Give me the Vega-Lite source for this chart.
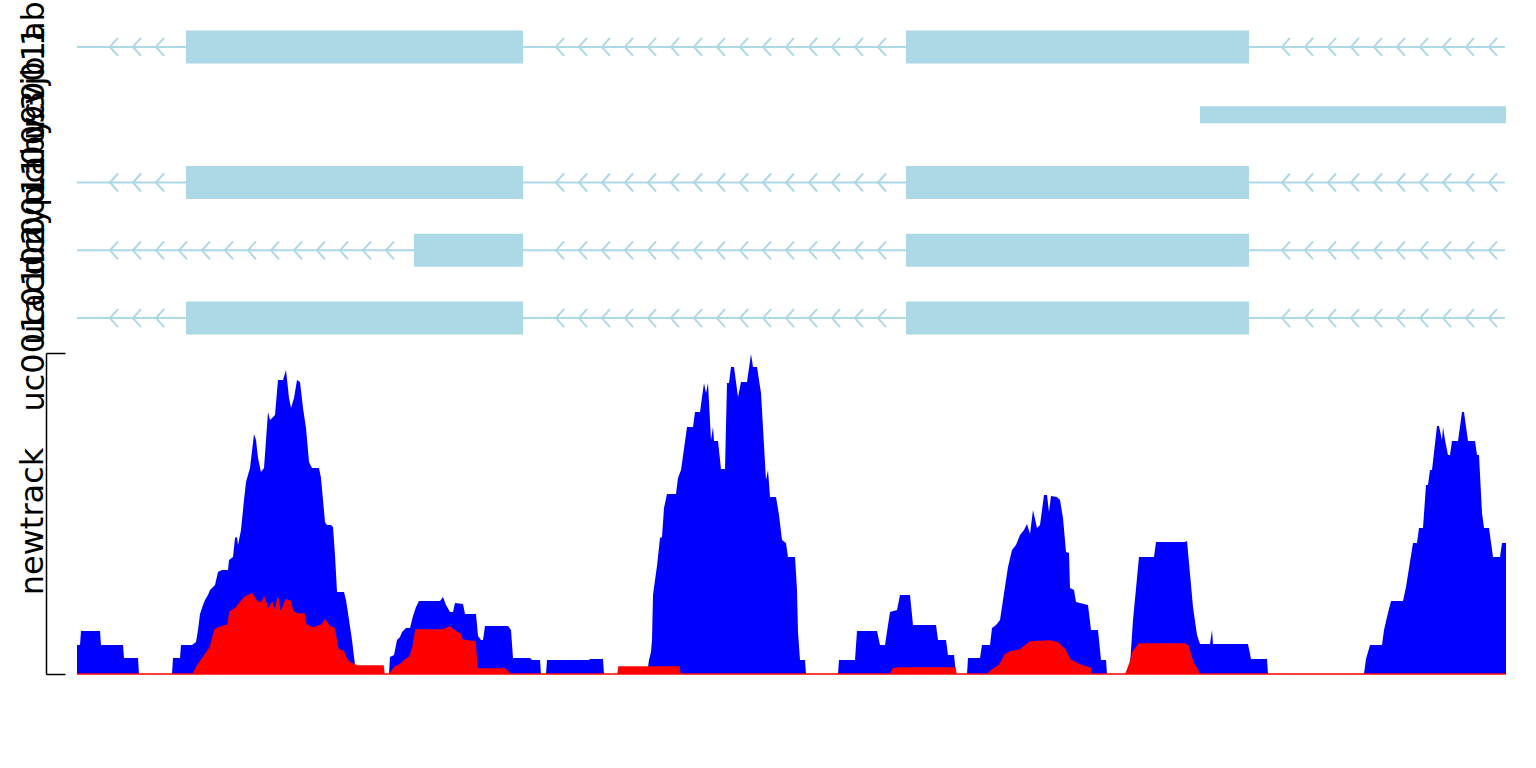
{
  "$schema": "https://vega.github.io/schema/vega-lite/v6.json",
  "padding": {"left": 16, "top": -47, "right": 0, "bottom": 0},
  "bounds": "flush",
  "spacing": 1,
  "config": {"view": {"stroke": null}, "font": "DejaVu Sans"},
  "datasets": {
    "lines": [
      {"r": "uc001abz.2", "x": 77, "x2": 1505},
      {"r": "uc001aby.3", "x": 77, "x2": 1505},
      {"r": "uc010nyp.1", "x": 77, "x2": 1505},
      {"r": "uc001acd.2", "x": 77, "x2": 1505}
    ],
    "exons": [
      {"r": "uc001abz.2", "x": 186, "x2": 523, "k": "cds"},
      {"r": "uc001abz.2", "x": 906, "x2": 1249, "k": "cds"},
      {"r": "uc009vjb.1", "x": 1200, "x2": 1506, "k": "nc"},
      {"r": "uc001aby.3", "x": 186, "x2": 523, "k": "cds"},
      {"r": "uc001aby.3", "x": 906, "x2": 1249, "k": "cds"},
      {"r": "uc010nyp.1", "x": 414, "x2": 523, "k": "cds"},
      {"r": "uc010nyp.1", "x": 906, "x2": 1249, "k": "cds"},
      {"r": "uc001acd.2", "x": 186, "x2": 523, "k": "cds"},
      {"r": "uc001acd.2", "x": 906, "x2": 1249, "k": "cds"}
    ],
    "arrows": [
      {"r": "uc001abz.2", "x": 114}, {"r": "uc001abz.2", "x": 137}, {"r": "uc001abz.2", "x": 160},
      {"r": "uc001abz.2", "x": 560}, {"r": "uc001abz.2", "x": 583}, {"r": "uc001abz.2", "x": 606}, {"r": "uc001abz.2", "x": 629}, {"r": "uc001abz.2", "x": 652}, {"r": "uc001abz.2", "x": 675}, {"r": "uc001abz.2", "x": 698}, {"r": "uc001abz.2", "x": 721}, {"r": "uc001abz.2", "x": 744}, {"r": "uc001abz.2", "x": 767}, {"r": "uc001abz.2", "x": 790}, {"r": "uc001abz.2", "x": 813}, {"r": "uc001abz.2", "x": 836}, {"r": "uc001abz.2", "x": 859}, {"r": "uc001abz.2", "x": 882},
      {"r": "uc001abz.2", "x": 1286}, {"r": "uc001abz.2", "x": 1309}, {"r": "uc001abz.2", "x": 1332}, {"r": "uc001abz.2", "x": 1355}, {"r": "uc001abz.2", "x": 1378}, {"r": "uc001abz.2", "x": 1401}, {"r": "uc001abz.2", "x": 1424}, {"r": "uc001abz.2", "x": 1447}, {"r": "uc001abz.2", "x": 1470}, {"r": "uc001abz.2", "x": 1493},
      {"r": "uc001aby.3", "x": 114}, {"r": "uc001aby.3", "x": 137}, {"r": "uc001aby.3", "x": 160},
      {"r": "uc001aby.3", "x": 560}, {"r": "uc001aby.3", "x": 583}, {"r": "uc001aby.3", "x": 606}, {"r": "uc001aby.3", "x": 629}, {"r": "uc001aby.3", "x": 652}, {"r": "uc001aby.3", "x": 675}, {"r": "uc001aby.3", "x": 698}, {"r": "uc001aby.3", "x": 721}, {"r": "uc001aby.3", "x": 744}, {"r": "uc001aby.3", "x": 767}, {"r": "uc001aby.3", "x": 790}, {"r": "uc001aby.3", "x": 813}, {"r": "uc001aby.3", "x": 836}, {"r": "uc001aby.3", "x": 859}, {"r": "uc001aby.3", "x": 882},
      {"r": "uc001aby.3", "x": 1286}, {"r": "uc001aby.3", "x": 1309}, {"r": "uc001aby.3", "x": 1332}, {"r": "uc001aby.3", "x": 1355}, {"r": "uc001aby.3", "x": 1378}, {"r": "uc001aby.3", "x": 1401}, {"r": "uc001aby.3", "x": 1424}, {"r": "uc001aby.3", "x": 1447}, {"r": "uc001aby.3", "x": 1470}, {"r": "uc001aby.3", "x": 1493},
      {"r": "uc010nyp.1", "x": 114}, {"r": "uc010nyp.1", "x": 137}, {"r": "uc010nyp.1", "x": 160}, {"r": "uc010nyp.1", "x": 183}, {"r": "uc010nyp.1", "x": 206}, {"r": "uc010nyp.1", "x": 229}, {"r": "uc010nyp.1", "x": 252}, {"r": "uc010nyp.1", "x": 275}, {"r": "uc010nyp.1", "x": 298}, {"r": "uc010nyp.1", "x": 321}, {"r": "uc010nyp.1", "x": 344}, {"r": "uc010nyp.1", "x": 367}, {"r": "uc010nyp.1", "x": 390},
      {"r": "uc010nyp.1", "x": 560}, {"r": "uc010nyp.1", "x": 583}, {"r": "uc010nyp.1", "x": 606}, {"r": "uc010nyp.1", "x": 629}, {"r": "uc010nyp.1", "x": 652}, {"r": "uc010nyp.1", "x": 675}, {"r": "uc010nyp.1", "x": 698}, {"r": "uc010nyp.1", "x": 721}, {"r": "uc010nyp.1", "x": 744}, {"r": "uc010nyp.1", "x": 767}, {"r": "uc010nyp.1", "x": 790}, {"r": "uc010nyp.1", "x": 813}, {"r": "uc010nyp.1", "x": 836}, {"r": "uc010nyp.1", "x": 859}, {"r": "uc010nyp.1", "x": 882},
      {"r": "uc010nyp.1", "x": 1286}, {"r": "uc010nyp.1", "x": 1309}, {"r": "uc010nyp.1", "x": 1332}, {"r": "uc010nyp.1", "x": 1355}, {"r": "uc010nyp.1", "x": 1378}, {"r": "uc010nyp.1", "x": 1401}, {"r": "uc010nyp.1", "x": 1424}, {"r": "uc010nyp.1", "x": 1447}, {"r": "uc010nyp.1", "x": 1470}, {"r": "uc010nyp.1", "x": 1493},
      {"r": "uc001acd.2", "x": 114}, {"r": "uc001acd.2", "x": 137}, {"r": "uc001acd.2", "x": 160},
      {"r": "uc001acd.2", "x": 560}, {"r": "uc001acd.2", "x": 583}, {"r": "uc001acd.2", "x": 606}, {"r": "uc001acd.2", "x": 629}, {"r": "uc001acd.2", "x": 652}, {"r": "uc001acd.2", "x": 675}, {"r": "uc001acd.2", "x": 698}, {"r": "uc001acd.2", "x": 721}, {"r": "uc001acd.2", "x": 744}, {"r": "uc001acd.2", "x": 767}, {"r": "uc001acd.2", "x": 790}, {"r": "uc001acd.2", "x": 813}, {"r": "uc001acd.2", "x": 836}, {"r": "uc001acd.2", "x": 859}, {"r": "uc001acd.2", "x": 882},
      {"r": "uc001acd.2", "x": 1286}, {"r": "uc001acd.2", "x": 1309}, {"r": "uc001acd.2", "x": 1332}, {"r": "uc001acd.2", "x": 1355}, {"r": "uc001acd.2", "x": 1378}, {"r": "uc001acd.2", "x": 1401}, {"r": "uc001acd.2", "x": 1424}, {"r": "uc001acd.2", "x": 1447}, {"r": "uc001acd.2", "x": 1470}, {"r": "uc001acd.2", "x": 1493}
    ],
    "blue": [
      {"x":77,"v":29},{"x":80,"v":29},{"x":81,"v":43},{"x":100,"v":43},{"x":101,"v":29},{"x":123,"v":29},{"x":124,"v":16},{"x":138,"v":16},{"x":139,"v":0},{"x":172,"v":0},{"x":173,"v":16},{"x":180,"v":16},{"x":181,"v":29},{"x":192,"v":29},{"x":196,"v":32},{"x":198,"v":44},{"x":200,"v":60},{"x":203,"v":69},{"x":205,"v":74},{"x":208,"v":79},{"x":210,"v":84},{"x":215,"v":89},{"x":218,"v":102},{"x":222,"v":104},{"x":228,"v":104},{"x":229,"v":114},{"x":233,"v":117},{"x":235,"v":136},{"x":237,"v":137},{"x":238,"v":129},{"x":241,"v":144},{"x":244,"v":174},{"x":246,"v":192},{"x":250,"v":206},{"x":254,"v":240},{"x":256,"v":234},{"x":258,"v":216},{"x":261,"v":202},{"x":264,"v":206},{"x":266,"v":234},{"x":268,"v":262},{"x":270,"v":254},{"x":275,"v":259},{"x":278,"v":294},{"x":283,"v":294},{"x":286,"v":304},{"x":289,"v":276},{"x":291,"v":266},{"x":294,"v":276},{"x":297,"v":294},{"x":300,"v":292},{"x":303,"v":266},{"x":306,"v":246},{"x":309,"v":212},{"x":312,"v":206},{"x":319,"v":206},{"x":321,"v":196},{"x":323,"v":174},{"x":325,"v":152},{"x":327,"v":149},{"x":331,"v":149},{"x":333,"v":147},{"x":335,"v":119},{"x":337,"v":82},{"x":344,"v":82},{"x":346,"v":74},{"x":348,"v":61},{"x":352,"v":34},{"x":355,"v":9},{"x":356,"v":0},
      {"x":389,"v":0},{"x":390,"v":17},{"x":394,"v":19},{"x":397,"v":34},{"x":400,"v":37},{"x":402,"v":42},{"x":406,"v":46},{"x":410,"v":46},{"x":413,"v":58},{"x":416,"v":67},{"x":419,"v":73},{"x":440,"v":73},{"x":443,"v":77},{"x":446,"v":69},{"x":450,"v":62},{"x":453,"v":62},{"x":455,"v":71},{"x":463,"v":70},{"x":465,"v":60},{"x":476,"v":60},{"x":478,"v":38},{"x":481,"v":34},{"x":483,"v":34},{"x":485,"v":48},{"x":508,"v":48},{"x":511,"v":44},{"x":513,"v":16},{"x":530,"v":16},{"x":532,"v":14},{"x":540,"v":14},{"x":541,"v":0},
      {"x":546,"v":0},{"x":547,"v":14},{"x":589,"v":14},{"x":590,"v":15},{"x":603,"v":15},{"x":604,"v":0},
      {"x":647,"v":0},{"x":649,"v":14},{"x":651,"v":22},{"x":652,"v":34},{"x":653,"v":79},{"x":655,"v":94},{"x":657,"v":108},{"x":660,"v":136},{"x":662,"v":137},{"x":664,"v":166},{"x":667,"v":180},{"x":676,"v":180},{"x":678,"v":196},{"x":681,"v":204},{"x":683,"v":218},{"x":687,"v":247},{"x":693,"v":247},{"x":695,"v":262},{"x":700,"v":262},{"x":704,"v":291},{"x":706,"v":281},{"x":708,"v":291},{"x":711,"v":234},{"x":713,"v":247},{"x":714,"v":233},{"x":718,"v":233},{"x":721,"v":205},{"x":725,"v":205},{"x":727,"v":291},{"x":729,"v":291},{"x":731,"v":307},{"x":734,"v":307},{"x":738,"v":277},{"x":741,"v":292},{"x":747,"v":292},{"x":751,"v":320},{"x":753,"v":307},{"x":757,"v":307},{"x":761,"v":281},{"x":766,"v":194},{"x":768,"v":204},{"x":770,"v":177},{"x":776,"v":177},{"x":779,"v":159},{"x":782,"v":134},{"x":786,"v":131},{"x":788,"v":117},{"x":795,"v":117},{"x":797,"v":84},{"x":798,"v":42},{"x":800,"v":14},{"x":805,"v":14},{"x":806,"v":0},
      {"x":838,"v":0},{"x":839,"v":14},{"x":855,"v":14},{"x":857,"v":43},{"x":877,"v":43},{"x":880,"v":29},{"x":885,"v":29},{"x":890,"v":62},{"x":897,"v":64},{"x":900,"v":79},{"x":910,"v":79},{"x":913,"v":49},{"x":936,"v":49},{"x":938,"v":34},{"x":946,"v":34},{"x":948,"v":19},{"x":954,"v":19},{"x":956,"v":0},
      {"x":967,"v":0},{"x":968,"v":16},{"x":980,"v":16},{"x":982,"v":29},{"x":990,"v":29},{"x":992,"v":46},{"x":996,"v":49},{"x":1000,"v":54},{"x":1003,"v":74},{"x":1008,"v":107},{"x":1012,"v":124},{"x":1016,"v":129},{"x":1020,"v":139},{"x":1024,"v":144},{"x":1027,"v":150},{"x":1030,"v":140},{"x":1033,"v":164},{"x":1037,"v":146},{"x":1040,"v":149},{"x":1044,"v":179},{"x":1047,"v":179},{"x":1049,"v":162},{"x":1051,"v":178},{"x":1057,"v":177},{"x":1060,"v":174},{"x":1063,"v":156},{"x":1066,"v":122},{"x":1069,"v":121},{"x":1070,"v":86},{"x":1074,"v":84},{"x":1076,"v":72},{"x":1088,"v":69},{"x":1091,"v":44},{"x":1098,"v":44},{"x":1101,"v":14},{"x":1106,"v":14},{"x":1107,"v":0},
      {"x":1129,"v":0},{"x":1130,"v":9},{"x":1133,"v":54},{"x":1139,"v":117},{"x":1154,"v":117},{"x":1156,"v":132},{"x":1185,"v":132},{"x":1187,"v":133},{"x":1193,"v":67},{"x":1197,"v":39},{"x":1200,"v":30},{"x":1210,"v":30},{"x":1212,"v":44},{"x":1213,"v":30},{"x":1248,"v":30},{"x":1251,"v":15},{"x":1267,"v":15},{"x":1268,"v":0},
      {"x":1364,"v":0},{"x":1366,"v":15},{"x":1370,"v":29},{"x":1382,"v":29},{"x":1384,"v":44},{"x":1387,"v":57},{"x":1391,"v":73},{"x":1403,"v":73},{"x":1406,"v":87},{"x":1413,"v":131},{"x":1417,"v":131},{"x":1419,"v":146},{"x":1423,"v":146},{"x":1426,"v":189},{"x":1428,"v":189},{"x":1430,"v":204},{"x":1432,"v":204},{"x":1437,"v":248},{"x":1439,"v":248},{"x":1442,"v":234},{"x":1443,"v":247},{"x":1445,"v":234},{"x":1448,"v":219},{"x":1450,"v":219},{"x":1452,"v":233},{"x":1458,"v":233},{"x":1462,"v":262},{"x":1464,"v":262},{"x":1468,"v":233},{"x":1475,"v":233},{"x":1477,"v":219},{"x":1479,"v":219},{"x":1482,"v":161},{"x":1484,"v":146},{"x":1489,"v":146},{"x":1493,"v":117},{"x":1500,"v":117},{"x":1502,"v":131},{"x":1506,"v":131}
    ],
    "red": [
      {"x":77,"v":0},{"x":193,"v":0},{"x":198,"v":9},{"x":203,"v":16},{"x":210,"v":26},{"x":215,"v":44},{"x":218,"v":46},{"x":228,"v":49},{"x":230,"v":62},{"x":236,"v":66},{"x":240,"v":71},{"x":245,"v":77},{"x":252,"v":80},{"x":257,"v":72},{"x":262,"v":71},{"x":264,"v":76},{"x":268,"v":64},{"x":272,"v":71},{"x":275,"v":62},{"x":278,"v":76},{"x":280,"v":61},{"x":283,"v":67},{"x":286,"v":74},{"x":290,"v":73},{"x":293,"v":62},{"x":298,"v":60},{"x":304,"v":60},{"x":306,"v":49},{"x":313,"v":46},{"x":322,"v":49},{"x":325,"v":54},{"x":330,"v":47},{"x":334,"v":46},{"x":338,"v":24},{"x":343,"v":23},{"x":347,"v":14},{"x":350,"v":11},{"x":355,"v":9},{"x":357,"v":8},{"x":383,"v":8},{"x":384,"v":0},
      {"x":390,"v":0},{"x":395,"v":7},{"x":400,"v":9},{"x":405,"v":14},{"x":410,"v":17},{"x":413,"v":27},{"x":416,"v":44},{"x":443,"v":44},{"x":450,"v":47},{"x":453,"v":44},{"x":460,"v":40},{"x":462,"v":34},{"x":475,"v":32},{"x":477,"v":5},{"x":505,"v":5},{"x":508,"v":2},{"x":510,"v":0},
      {"x":618,"v":0},{"x":619,"v":7},{"x":679,"v":7},{"x":680,"v":0},
      {"x":891,"v":0},{"x":893,"v":5},{"x":900,"v":6},{"x":955,"v":6},{"x":956,"v":0},
      {"x":988,"v":0},{"x":992,"v":4},{"x":1000,"v":9},{"x":1005,"v":19},{"x":1010,"v":22},{"x":1020,"v":24},{"x":1030,"v":32},{"x":1050,"v":33},{"x":1058,"v":31},{"x":1065,"v":24},{"x":1070,"v":14},{"x":1080,"v":9},{"x":1090,"v":6},{"x":1091,"v":0},
      {"x":1126,"v":0},{"x":1130,"v":11},{"x":1133,"v":22},{"x":1139,"v":30},{"x":1185,"v":30},{"x":1188,"v":28},{"x":1193,"v":11},{"x":1197,"v":5},{"x":1199,"v":0},{"x":1506,"v":0}
    ]
  },
  "vconcat": [
    {
      "width": 1429,
      "height": 339,
      "encoding": {
        "y": {
          "field": "r", "type": "nominal",
          "scale": {"domain": ["uc001abz.2", "uc009vjb.1", "uc001aby.3", "uc010nyp.1", "uc001acd.2"], "paddingInner": 0, "paddingOuter": 0},
          "axis": {"title": null, "domain": false, "ticks": false, "labelAngle": -90, "labelAlign": "center", "labelBaseline": "middle", "labelPadding": 44, "labelFontSize": 32, "labelColor": "black", "labelOverlap": false, "labelLimit": 0, "labelBound": false, "labelFlush": false, "labelFont": "DejaVu Sans"}
        }
      },
      "layer": [
        {
          "data": {"name": "lines"},
          "mark": {"type": "rule", "color": "#ADD8E6", "strokeWidth": 2},
          "encoding": {
            "x": {"field": "x", "type": "quantitative", "scale": {"domain": [77, 1506], "nice": false, "zero": false}, "axis": null},
            "x2": {"field": "x2"}
          }
        },
        {
          "data": {"name": "arrows"},
          "mark": {"type": "point", "shape": "M0.45,-1L-0.45,0L0.45,1", "filled": false, "stroke": "#ADD8E6", "strokeWidth": 2, "size": 324, "opacity": 1},
          "encoding": {
            "x": {"field": "x", "type": "quantitative", "scale": {"domain": [77, 1506], "nice": false, "zero": false}, "axis": null}
          }
        },
        {
          "data": {"name": "exons"},
          "transform": [{"filter": "datum.k == 'cds'"}],
          "mark": {"type": "bar", "color": "#ADD8E6", "height": {"band": 0.487}},
          "encoding": {
            "x": {"field": "x", "type": "quantitative", "scale": {"domain": [77, 1506], "nice": false, "zero": false}, "axis": null},
            "x2": {"field": "x2"}
          }
        },
        {
          "data": {"name": "exons"},
          "transform": [{"filter": "datum.k == 'nc'"}],
          "mark": {"type": "bar", "color": "#ADD8E6", "height": {"band": 0.25}},
          "encoding": {
            "x": {"field": "x", "type": "quantitative", "scale": {"domain": [77, 1506], "nice": false, "zero": false}, "axis": null},
            "x2": {"field": "x2"}
          }
        }
      ]
    },
    {
      "width": 1429,
      "height": 321,
      "encoding": {
        "x": {"field": "x", "type": "quantitative", "scale": {"domain": [77, 1506], "nice": false, "zero": false}, "axis": null},
        "y": {
          "field": "v", "type": "quantitative",
          "scale": {"domain": [0, 321], "nice": false},
          "axis": {"values": [0, 321], "labels": false, "grid": false, "offset": 31, "tickSize": -19, "domainColor": "black", "tickColor": "black", "domainWidth": 1.5, "tickWidth": 1.5, "title": "newtrack", "titleFontSize": 32, "titleFontWeight": "normal", "titleColor": "black", "titleFont": "DejaVu Sans", "titleBaseline": "alphabetic", "titlePadding": 3, "titleY": 168}
        }
      },
      "layer": [
        {"data": {"name": "blue"}, "mark": {"type": "area", "color": "#0000FF"}},
        {"data": {"name": "red"}, "mark": {"type": "area", "color": "#FF0000", "stroke": "#FF0000", "strokeWidth": 1.5}}
      ]
    }
  ]
}
